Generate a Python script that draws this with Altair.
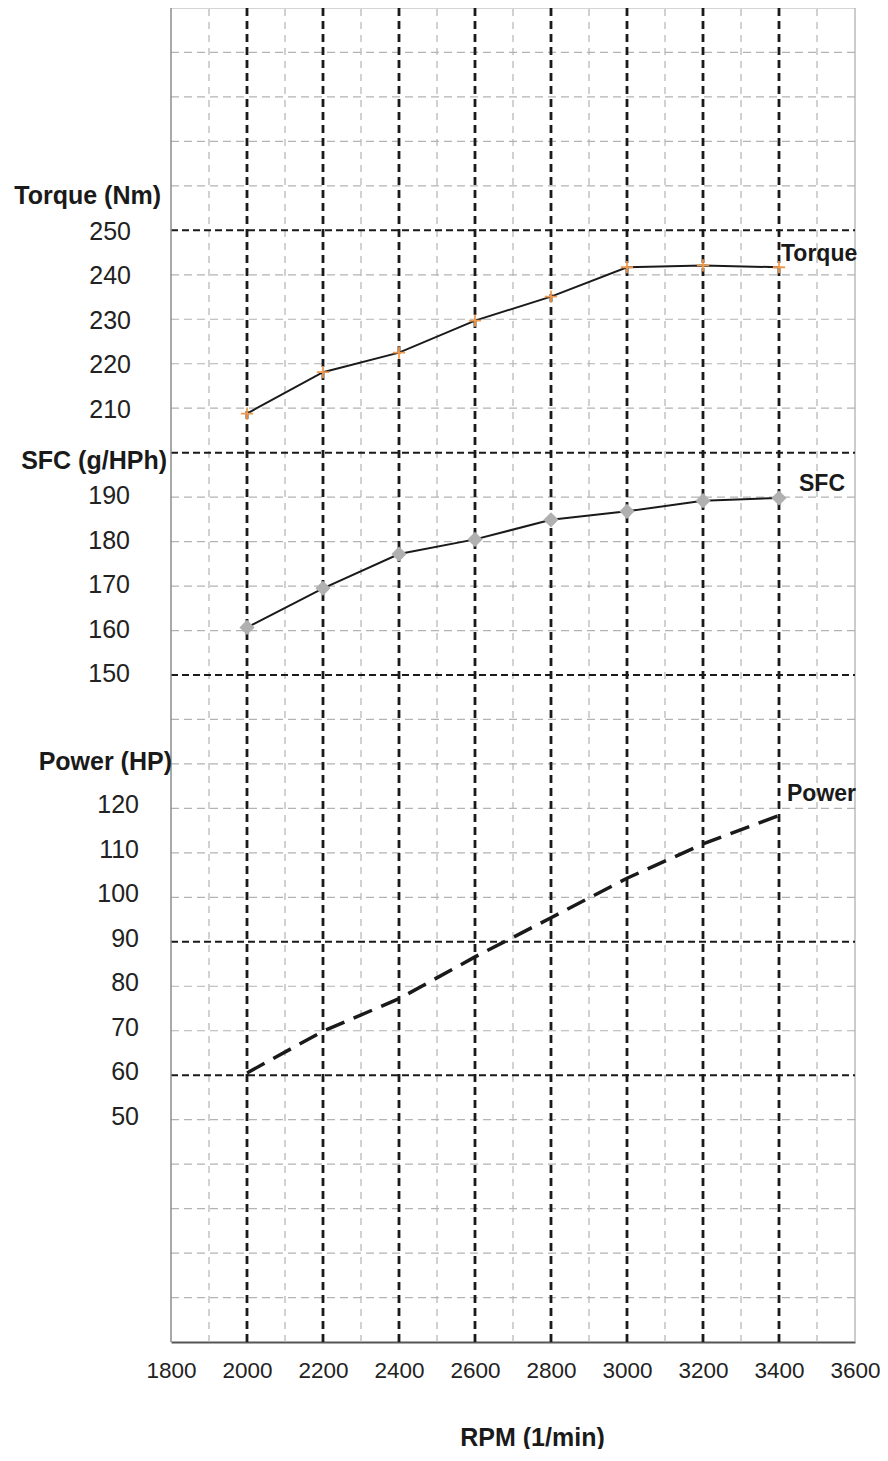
import altair as alt
import pandas as pd

# ---------------- data ----------------
rpm = [2000, 2200, 2400, 2600, 2800, 3000, 3200, 3400]
torque = [208.8, 218.1, 222.5, 229.7, 235.1, 241.7, 242.1, 241.7]
sfc = [160.7, 169.5, 177.2, 180.5, 184.9, 186.8, 189.2, 189.8]
power = [60.5, 69.9, 77.2, 86.6, 95.4, 104.3, 112.0, 118.4]

x_ticks = [1800, 2000, 2200, 2400, 2600, 2800, 3000, 3200, 3400, 3600]
minor_x = [1900, 2100, 2300, 2500, 2700, 2900, 3100, 3300, 3500]
major_x = [2000, 2200, 2400, 2600, 2800, 3000, 3200, 3400]
major_y = [60, 90, 150, 200, 250]
minor_y = [10, 20, 30, 40, 50, 70, 80, 100, 110, 120, 130, 140, 160, 170,
           180, 190, 210, 220, 230, 240, 260, 270, 280, 290]

torque_ticks = [210, 220, 230, 240, 250]
sfc_ticks = [150, 160, 170, 180, 190]
power_ticks = [50, 60, 70, 80, 90, 100, 110, 120]

group_titles = ["Torque (Nm)", "SFC (g/HPh)", "Power (HP)"]
group_title_levels = [257.8, 198.1, 130.4]
series_names = ["Torque", "SFC", "Power"]

X_MIN, X_MAX = 1800, 3600
Y_MIN, Y_MAX = 0, 300

FONT = "Liberation Sans"
DARK = "#1a1a1a"
LIGHT = "#b3b3b3"

W, H = 684, 1334

xs = alt.Scale(domain=[X_MIN, X_MAX], nice=False, zero=False)
ys = alt.Scale(domain=[Y_MIN, Y_MAX], nice=False, zero=False)
x_axis = alt.Axis(values=x_ticks, format="d", title="RPM (1/min)", grid=False, ticks=False,
                  domain=True, domainColor="#555555", domainWidth=2,
                  labelFont=FONT, labelFontSize=22.5, labelColor="#222222",
                  labelPadding=17, labelFlush=False, labelOverlap=False,
                  titleFont=FONT, titleFontSize=25, titleFontWeight="bold",
                  titleColor="#1a1a1a", titleX=361, titleY=95,
                  titleBaseline="middle", titleAlign="center")


def X(field):
    return alt.X(f"{field}:Q", scale=xs, axis=x_axis)


def Y(field):
    return alt.Y(f"{field}:Q", scale=ys, axis=None)


df = pd.DataFrame({"rpm": rpm, "torque": torque, "sfc": sfc, "power": power})

# ---------------- grid ----------------
vminor = alt.Chart(pd.DataFrame({"x": minor_x, "y0": Y_MIN, "y1": Y_MAX})).mark_rule(
    color=LIGHT, strokeWidth=1.2, strokeDash=[7, 6]
).encode(x=X("x"), y=Y("y0"), y2="y1:Q")

hminor = alt.Chart(pd.DataFrame({"y": minor_y, "x0": X_MIN, "x1": X_MAX})).mark_rule(
    color=LIGHT, strokeWidth=1.2, strokeDash=[8, 5]
).encode(y=Y("y"), x=X("x0"), x2="x1:Q")

hmajor = alt.Chart(pd.DataFrame({"y": major_y, "x0": X_MIN, "x1": X_MAX})).mark_rule(
    color=DARK, strokeWidth=2, strokeDash=[7, 4]
).encode(y=Y("y"), x=X("x0"), x2="x1:Q")

vmajor = alt.Chart(pd.DataFrame({"x": major_x, "y0": Y_MIN, "y1": Y_MAX})).mark_rule(
    color=DARK, strokeWidth=2.8, strokeDash=[8, 5]
).encode(x=X("x"), y=Y("y0"), y2="y1:Q")

left_border = alt.Chart(pd.DataFrame({"x": [X_MIN], "y0": Y_MIN, "y1": Y_MAX})).mark_rule(
    color="#8c8c8c", strokeWidth=1.5
).encode(x=X("x"), y=Y("y0"), y2="y1:Q")

right_border = alt.Chart(pd.DataFrame({"x": [X_MAX], "y0": Y_MIN, "y1": Y_MAX})).mark_rule(
    color="#aaaaaa", strokeWidth=1.2
).encode(x=X("x"), y=Y("y0"), y2="y1:Q")

top_border = alt.Chart(pd.DataFrame({"y": [Y_MAX], "x0": X_MIN, "x1": X_MAX})).mark_rule(
    color="#aaaaaa", strokeWidth=1.2
).encode(y=Y("y"), x=X("x0"), x2="x1:Q")

# ---------------- series ----------------
base = alt.Chart(df)

torque_line = base.mark_line(color=DARK, strokeWidth=2).encode(x=X("rpm"), y=Y("torque"))
torque_pts = base.mark_point(
    shape="M-1,0H1M0,-1V1", filled=False, stroke="#ef9b4f", strokeWidth=1.8,
    size=150, opacity=1
).encode(x=X("rpm"), y=Y("torque"))

sfc_line = base.mark_line(color=DARK, strokeWidth=2).encode(x=X("rpm"), y=Y("sfc"))
sfc_pts = base.mark_point(
    shape="diamond", filled=True, color="#b0b0b0", size=230, opacity=1
).encode(x=X("rpm"), y=Y("sfc"))

power_line = base.mark_line(color=DARK, strokeWidth=3.5, strokeDash=[20, 10]).encode(
    x=X("rpm"), y=Y("power"))

# ---------------- series labels ----------------
last = df.tail(1).copy()
last["n_t"] = series_names[0]
last["n_s"] = series_names[1]
last["n_p"] = series_names[2]
lab_style = dict(align="left", baseline="middle", font=FONT, fontSize=23,
                 fontWeight="bold", color=DARK)
lab_t = alt.Chart(last).mark_text(dx=2, dy=-13, **lab_style).encode(
    x=X("rpm"), y=Y("torque"), text="n_t:N")
lab_s = alt.Chart(last).mark_text(dx=20, dy=-14, **lab_style).encode(
    x=X("rpm"), y=Y("sfc"), text="n_s:N")
lab_p = alt.Chart(last).mark_text(dx=8, dy=-22, **lab_style).encode(
    x=X("rpm"), y=Y("power"), text="n_p:N")

# ---------------- left-side labels ----------------
num_style = dict(align="right", baseline="middle", font=FONT, fontSize=25, color="#222222")
t_nums = alt.Chart(pd.DataFrame({"v": torque_ticks})).mark_text(dy=1.5, **num_style).encode(
    y=Y("v"), text="v:Q", x=alt.value(-40))
s_nums = alt.Chart(pd.DataFrame({"v": sfc_ticks})).mark_text(dy=-1, **num_style).encode(
    y=Y("v"), text="v:Q", x=alt.value(-41))
p_nums = alt.Chart(pd.DataFrame({"v": power_ticks})).mark_text(dy=-3, **num_style).encode(
    y=Y("v"), text="v:Q", x=alt.value(-32))

gt_style = dict(align="right", baseline="middle", font=FONT, fontSize=25,
                fontWeight="bold", color=DARK)
gtitles = pd.DataFrame({"v": group_title_levels, "t": group_titles})
g_t = alt.Chart(gtitles.iloc[[0]]).mark_text(**gt_style).encode(
    y=Y("v"), text="t:N", x=alt.value(-10))
g_s = alt.Chart(gtitles.iloc[[1]]).mark_text(**gt_style).encode(
    y=Y("v"), text="t:N", x=alt.value(-4))
g_p = alt.Chart(gtitles.iloc[[2]]).mark_text(**gt_style).encode(
    y=Y("v"), text="t:N", x=alt.value(1))

chart = alt.layer(
    vminor, hminor, top_border, right_border, hmajor, vmajor, left_border,
    power_line, torque_line, sfc_line, torque_pts, sfc_pts,
    lab_t, lab_s, lab_p, t_nums, s_nums, p_nums, g_t, g_s, g_p
).properties(
    width=W, height=H,
    autosize=alt.AutoSizeParams(type="none"),
    padding={"left": 163, "top": 0, "right": 25, "bottom": 107},
    background="white"
).configure_view(stroke=None)

chart.save("out.html", embed_options={"renderer": "svg", "actions": False})
